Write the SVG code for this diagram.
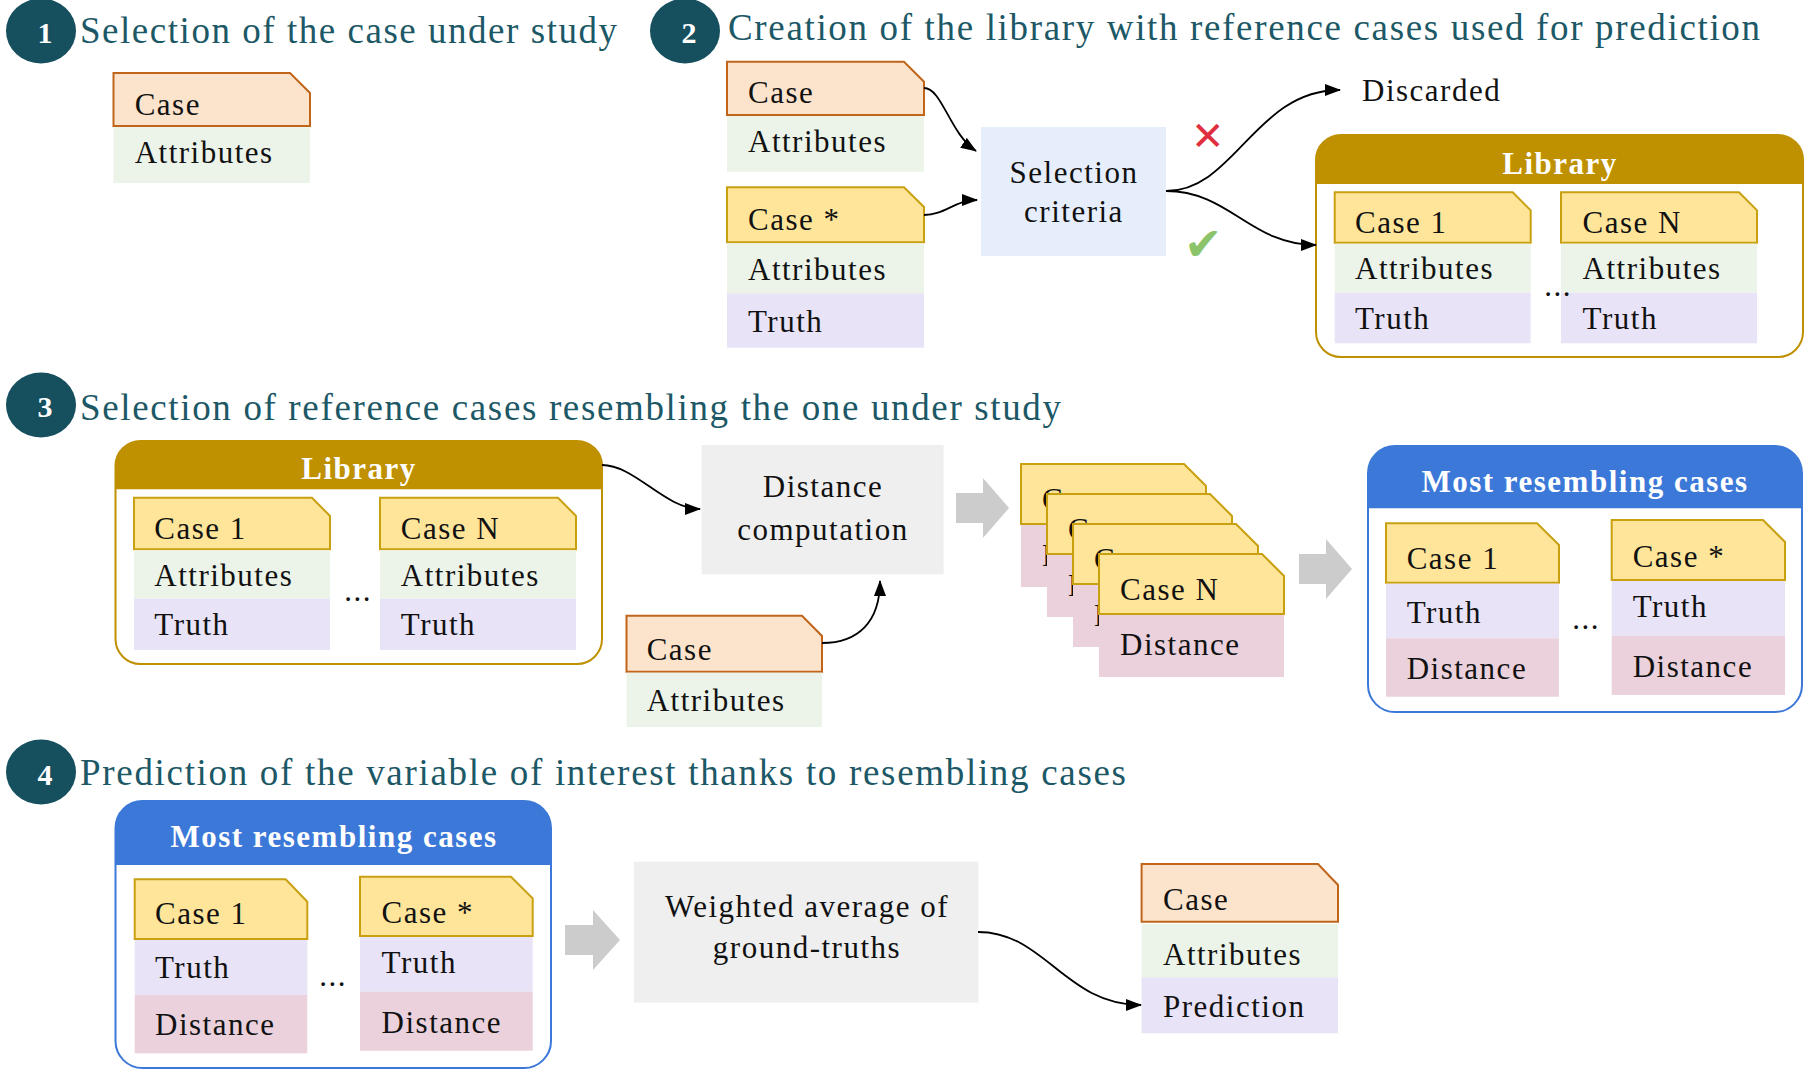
<svg xmlns="http://www.w3.org/2000/svg" width="1816" height="1075" viewBox="0 0 1816 1075">
<style>
text{font-family:"Liberation Serif","Times New Roman",serif}
.t{font-size:31px;letter-spacing:1.5px;fill:#111}
.c{text-anchor:middle}
.hd{font-size:31px;letter-spacing:1.5px;font-weight:bold;fill:#fff;text-anchor:middle}
.title{font-size:37px;fill:#1c5866}
.num{font-size:30px;font-weight:bold;fill:#fff;text-anchor:middle}
.circ{fill:#164f5e}
.orange{fill:#fce4cc;stroke:#c0651a;stroke-width:2}
.yellow{fill:#fee59a;stroke:#c9a010;stroke-width:2}
.attr{fill:#ecf4e9}
.truth{fill:#e8e3f6}
.dist{fill:#ead1dc}
.gbox{fill:#efefef}
.sel{fill:#e6eefb}
.garrow{fill:#cccccc}
.libframe{fill:#fff;stroke:#bf9000;stroke-width:2}
.libhead{fill:#bf9000}
.mrcframe{fill:#fff;stroke:#3c78d8;stroke-width:2}
.mrchead{fill:#3c78d8}
.conn{fill:none;stroke:#000;stroke-width:1.8;marker-end:url(#ah)}
</style>
<defs>
<marker id="ah" markerUnits="userSpaceOnUse" markerWidth="16" markerHeight="12" viewBox="0 0 16 12" refX="15" refY="6" orient="auto">
<path d="M0,0 L16,6 L0,12 z" fill="#000"/>
</marker>
</defs>

<!-- Step headings -->
<g id="step1">
<ellipse class="circ" cx="41" cy="31" rx="35" ry="32.5"/>
<text class="num" x="45" y="42.5">1</text>
<text class="title" x="80" y="43" textLength="537" lengthAdjust="spacing">Selection of the case under study</text>
</g>
<g id="step2">
<ellipse class="circ" cx="685" cy="31" rx="35" ry="32.5"/>
<text class="num" x="689" y="42.5">2</text>
<text class="title" x="728" y="40" textLength="1032" lengthAdjust="spacing">Creation of the library with reference cases used for prediction</text>
</g>
<g id="step3">
<ellipse class="circ" cx="41" cy="405" rx="35" ry="32.5"/>
<text class="num" x="45" y="416.5">3</text>
<text class="title" x="80" y="420" textLength="981" lengthAdjust="spacing">Selection of reference cases resembling the one under study</text>
</g>
<g id="step4">
<ellipse class="circ" cx="41" cy="772" rx="35" ry="32.5"/>
<text class="num" x="45" y="784.5">4</text>
<text class="title" x="80" y="785" textLength="1046" lengthAdjust="spacing">Prediction of the variable of interest thanks to resembling cases</text>
</g>

<!-- Section 1 -->
<g id="case-study-1">
<path class="orange" d="M113.5,73 H290 L310,93 V126 H113.5 Z"/>
<rect class="attr" x="113.5" y="127" width="196.5" height="56"/>
<text class="t" x="134.7" y="115">Case</text>
<text class="t" x="134.7" y="162.7">Attributes</text>
</g>

<!-- Section 2 -->
<g id="case-2">
<path class="orange" d="M727,61.7 H904 L924,81.7 V115 H727 Z"/>
<rect class="attr" x="727" y="116" width="197" height="55.7"/>
<text class="t" x="748" y="103.3">Case</text>
<text class="t" x="748" y="151.7">Attributes</text>
</g>
<g id="case-star-2">
<path class="yellow" d="M727,187.3 H904 L924,207 V242.3 H727 Z"/>
<rect class="attr" x="727" y="243.3" width="197" height="50"/>
<rect class="truth" x="727" y="293.3" width="197" height="54.4"/>
<text class="t" x="748" y="230">Case *</text>
<text class="t" x="748" y="280">Attributes</text>
<text class="t" x="748" y="331.7">Truth</text>
</g>
<g id="selection-criteria">
<rect class="sel" x="981" y="127" width="185" height="129"/>
<text class="t c" x="1074" y="183.3">Selection</text>
<text class="t c" x="1074" y="221.7">criteria</text>
</g>
<g id="marks">
<text x="1208" y="150" font-family="DejaVu Sans, sans-serif" font-size="40" fill="#e0303f" text-anchor="middle">✕</text>
<text x="1203" y="260" font-family="DejaVu Sans, sans-serif" font-size="46" fill="#8cc46c" text-anchor="middle">✔</text>
</g>
<g id="discarded">
<text class="t" x="1362" y="100.7">Discarded</text>
</g>
<g id="library-2">
<rect class="libframe" x="1316" y="135" width="487" height="222" rx="25" ry="25"/>
<path class="libhead" d="M1316,184 V160 A25,25 0 0 1 1341,135 H1778 A25,25 0 0 1 1803,160 V184 Z"/>
<text class="hd" x="1560" y="174">Library</text>
<path class="yellow" d="M1334.7,192.3 H1512.7 L1530.7,210.3 V242.7 H1334.7 Z"/>
<rect class="attr" x="1334.7" y="243.7" width="196" height="49"/>
<rect class="truth" x="1334.7" y="292.7" width="196" height="50.6"/>
<text class="t" x="1355" y="233.3">Case 1</text>
<text class="t" x="1355" y="279.3">Attributes</text>
<text class="t" x="1355" y="329.3">Truth</text>
<path class="yellow" d="M1561,192.3 H1739 L1757,210.3 V242.7 H1561 Z"/>
<rect class="attr" x="1561" y="243.7" width="196" height="49"/>
<rect class="truth" x="1561" y="292.7" width="196" height="50.6"/>
<text class="t" x="1582.6" y="233.3">Case N</text>
<text class="t" x="1582.6" y="279.3">Attributes</text>
<text class="t" x="1582.6" y="329.3">Truth</text>
<text class="t c" x="1558" y="296">...</text>
</g>

<!-- Section 3 -->
<g id="library-3">
<rect class="libframe" x="115.5" y="441" width="486.5" height="223" rx="25" ry="25"/>
<path class="libhead" d="M115.5,489.3 V466 A25,25 0 0 1 140.5,441 H577 A25,25 0 0 1 602,466 V489.3 Z"/>
<text class="hd" x="359" y="479.3">Library</text>
<path class="yellow" d="M134,497.7 H312 L330,516 V549.3 H134 Z"/>
<rect class="attr" x="134" y="550.3" width="196" height="48.4"/>
<rect class="truth" x="134" y="598.7" width="196" height="51.3"/>
<text class="t" x="154.3" y="539.3">Case 1</text>
<text class="t" x="154.3" y="586">Attributes</text>
<text class="t" x="154.3" y="635">Truth</text>
<path class="yellow" d="M380,497.7 H558 L576,516 V549.3 H380 Z"/>
<rect class="attr" x="380" y="550.3" width="196" height="48.4"/>
<rect class="truth" x="380" y="598.7" width="196" height="51.3"/>
<text class="t" x="400.8" y="539.3">Case N</text>
<text class="t" x="400.8" y="586">Attributes</text>
<text class="t" x="400.8" y="635">Truth</text>
<text class="t c" x="358" y="601">...</text>
</g>
<g id="distance-computation">
<rect class="gbox" x="701.6" y="445" width="242" height="129.3"/>
<text class="t c" x="823" y="496.7">Distance</text>
<text class="t c" x="823" y="540">computation</text>
</g>
<g id="case-study-3">
<path class="orange" d="M626.5,615.7 H802 L822,636 V671.7 H626.5 Z"/>
<rect class="attr" x="626.5" y="672.7" width="195.5" height="54.3"/>
<text class="t" x="646.7" y="660">Case</text>
<text class="t" x="646.7" y="711">Attributes</text>
</g>
<g id="arrow-block-1">
<path class="garrow" d="M956,493 H983 V478 L1009,508 L983,538 V523 H956 Z"/>
</g>
<g id="distance-stack">
<path class="yellow" d="M1021,464 H1184 L1206,486 V524 H1021 Z"/>
<rect class="dist" x="1021" y="525" width="185" height="62"/>
<text class="t" x="1042" y="510">C</text>
<text class="t" x="1042" y="566" font-size="22">D</text>
<path class="yellow" d="M1047,494 H1210 L1232,516 V554 H1047 Z"/>
<rect class="dist" x="1047" y="555" width="185" height="62"/>
<text class="t" x="1068" y="540">C</text>
<text class="t" x="1068" y="596" font-size="22">D</text>
<path class="yellow" d="M1073,524 H1236 L1258,546 V584 H1073 Z"/>
<rect class="dist" x="1073" y="585" width="185" height="62"/>
<text class="t" x="1094" y="570">C</text>
<text class="t" x="1094" y="626" font-size="22">D</text>
<path class="yellow" d="M1099,554 H1262 L1284,576 V614 H1099 Z"/>
<rect class="dist" x="1099" y="615" width="185" height="62"/>
<text class="t" x="1120" y="600">Case N</text>
<text class="t" x="1120" y="655">Distance</text>
</g>
<g id="arrow-block-2">
<path class="garrow" d="M1299,554 H1326 V539 L1352,569 L1326,599 V584 H1299 Z"/>
</g>
<g id="most-resembling-3">
<rect class="mrcframe" x="1368" y="446" width="434" height="266" rx="27" ry="27"/>
<path class="mrchead" d="M1368,508.3 V473 A27,27 0 0 1 1395,446 H1775 A27,27 0 0 1 1802,473 V508.3 Z"/>
<text class="hd" x="1585" y="491.7">Most resembling cases</text>
<path class="yellow" d="M1386,523.3 H1537 L1559,545 V582.7 H1386 Z"/>
<rect class="truth" x="1386" y="583.7" width="173" height="54.6"/>
<rect class="dist" x="1386" y="638.3" width="173" height="58.4"/>
<text class="t" x="1406.7" y="569.3">Case 1</text>
<text class="t" x="1406.7" y="623.3">Truth</text>
<text class="t" x="1406.7" y="679.3">Distance</text>
<path class="yellow" d="M1611.7,520 H1763 L1785,542 V580 H1611.7 Z"/>
<rect class="truth" x="1611.7" y="581" width="173.3" height="55"/>
<rect class="dist" x="1611.7" y="636" width="173.3" height="59"/>
<text class="t" x="1632.7" y="566.7">Case *</text>
<text class="t" x="1632.7" y="616.7">Truth</text>
<text class="t" x="1632.7" y="676.7">Distance</text>
<text class="t c" x="1586" y="629">...</text>
</g>

<!-- Section 4 -->
<g id="most-resembling-4">
<rect class="mrcframe" x="115.5" y="801" width="435.5" height="267" rx="27" ry="27"/>
<path class="mrchead" d="M115.5,865 V828 A27,27 0 0 1 142.5,801 H524 A27,27 0 0 1 551,828 V865 Z"/>
<text class="hd" x="334" y="847.3">Most resembling cases</text>
<path class="yellow" d="M134.7,879.3 H285.7 L307.3,901.7 V939 H134.7 Z"/>
<rect class="truth" x="134.7" y="940" width="172.6" height="55"/>
<rect class="dist" x="134.7" y="995" width="172.6" height="58.3"/>
<text class="t" x="155" y="924">Case 1</text>
<text class="t" x="155" y="978.3">Truth</text>
<text class="t" x="155" y="1035">Distance</text>
<path class="yellow" d="M360,876.7 H511 L532.7,898.3 V936 H360 Z"/>
<rect class="truth" x="360" y="937" width="172.7" height="54.7"/>
<rect class="dist" x="360" y="991.7" width="172.7" height="59"/>
<text class="t" x="381.6" y="922.7">Case *</text>
<text class="t" x="381.6" y="973.3">Truth</text>
<text class="t" x="381.6" y="1032.7">Distance</text>
<text class="t c" x="333" y="986">...</text>
</g>
<g id="arrow-block-3">
<path class="garrow" d="M565,925 H593 V910 L620,940 L593,970 V955 H565 Z"/>
</g>
<g id="weighted-average">
<rect class="gbox" x="634" y="861.7" width="344.4" height="141"/>
<text class="t c" x="807" y="917.3">Weighted average of</text>
<text class="t c" x="807" y="958.3">ground-truths</text>
</g>
<g id="prediction-case">
<path class="orange" d="M1141.6,864 H1318 L1338,885 V921.7 H1141.6 Z"/>
<rect class="attr" x="1141.6" y="924" width="196.4" height="53.3"/>
<rect class="truth" x="1141.6" y="977.3" width="196.4" height="56"/>
<text class="t" x="1163" y="910">Case</text>
<text class="t" x="1163" y="965">Attributes</text>
<text class="t" x="1163" y="1016.7">Prediction</text>
</g>

<!-- Connectors -->
<g id="connectors">
<path class="conn" d="M924,88 C942,88 950,134 976,151"/>
<path class="conn" d="M924,215 C945,215 955,200 977,200"/>
<path class="conn" d="M1166,191 C1235,191 1255,90 1340,90"/>
<path class="conn" d="M1166,191 C1230,191 1250,245 1316,245"/>
<path class="conn" d="M602,465 C635,465 665,509 700,509"/>
<path class="conn" d="M822,643 C858,643 880,622 880,581"/>
<path class="conn" d="M978,932 C1045,932 1065,1005 1141,1005"/>
</g>
</svg>
